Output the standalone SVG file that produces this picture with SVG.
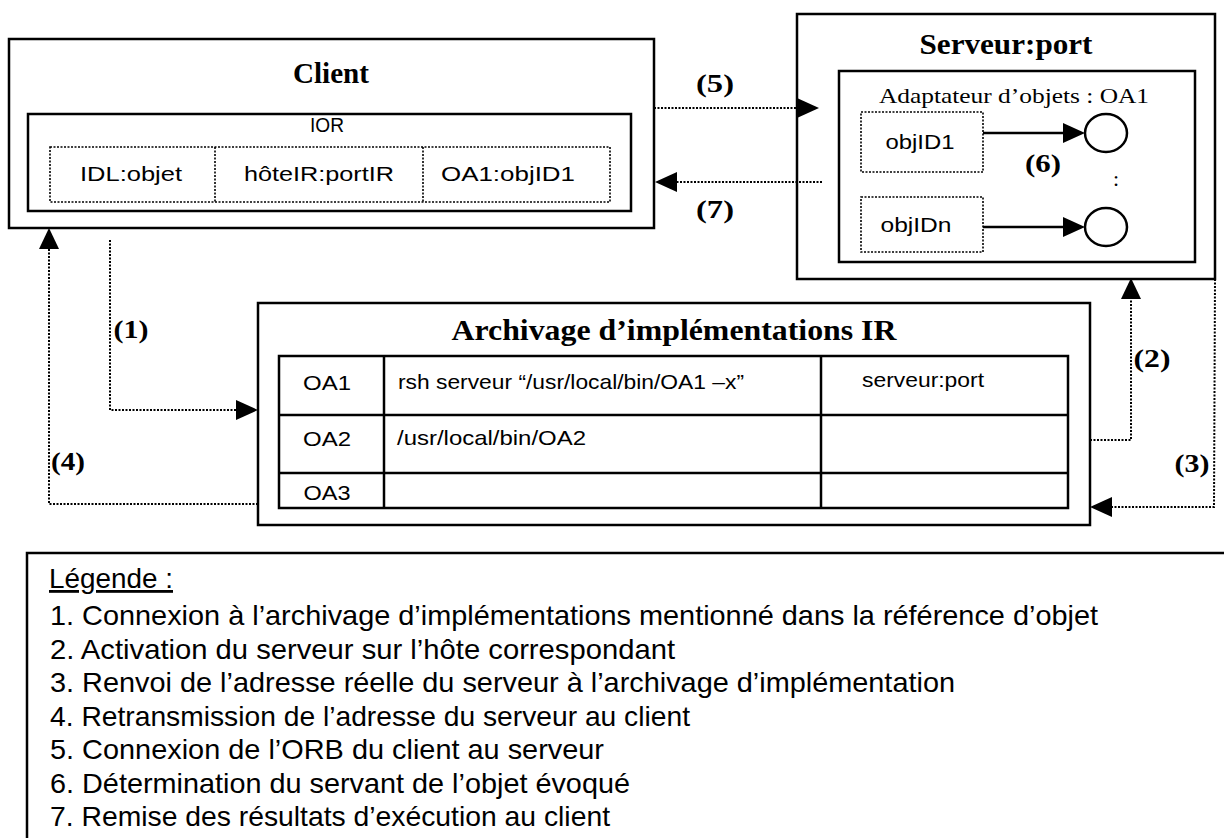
<svg xmlns="http://www.w3.org/2000/svg" width="1224" height="838" viewBox="0 0 1224 838">
<style>
.box{fill:none;stroke:#000;stroke-width:2.5}
.dbox{fill:none;stroke:#000;stroke-width:1.6;stroke-dasharray:2 1.5}
.conn{fill:none;stroke:#000;stroke-width:2;stroke-dasharray:2 1.5}
.solid{fill:none;stroke:#000;stroke-width:2.5}
.head{fill:#000;stroke:none}
.title{font-family:"Liberation Serif","Times New Roman",serif;font-weight:bold;font-size:30px;text-anchor:middle;fill:#000}
.cell{font-family:"Liberation Sans",Arial,sans-serif;font-size:21px;fill:#000}
.mid{text-anchor:middle}
.lab{font-family:"Liberation Serif","Times New Roman",serif;font-weight:bold;font-size:26px;text-anchor:middle;fill:#000}
.serif{font-family:"Liberation Serif","Times New Roman",serif;font-size:22px;fill:#000}
.leg{font-family:"Liberation Sans",Arial,sans-serif;font-size:28px;fill:#000}
</style>
<rect width="1224" height="838" fill="#fff"/>

<g id="client">
  <rect class="box" x="9" y="39" width="645" height="189"/>
  <text class="title" x="331" y="83" textLength="76" lengthAdjust="spacingAndGlyphs">Client</text>
  <rect class="box" x="28" y="114" width="603" height="97"/>
  <text class="cell mid" x="327" y="132" textLength="34" lengthAdjust="spacingAndGlyphs">IOR</text>
  <rect class="dbox" x="50" y="147" width="560" height="55"/>
  <line class="dbox" x1="215" y1="147" x2="215" y2="202"/>
  <line class="dbox" x1="423" y1="147" x2="423" y2="202"/>
  <text class="cell mid" x="131" y="181" textLength="102" lengthAdjust="spacingAndGlyphs">IDL:objet</text>
  <text class="cell mid" x="319" y="181" textLength="150" lengthAdjust="spacingAndGlyphs">hôteIR:portIR</text>
  <text class="cell mid" x="508" y="181" textLength="134" lengthAdjust="spacingAndGlyphs">OA1:objID1</text>
</g>

<g id="serveur">
  <rect class="box" x="797" y="14" width="418" height="265"/>
  <text class="title" x="1006" y="54" textLength="173" lengthAdjust="spacingAndGlyphs">Serveur:port</text>
  <rect class="box" x="839" y="71" width="356" height="191"/>
  <text class="serif" x="1014" y="103" text-anchor="middle" textLength="270" lengthAdjust="spacingAndGlyphs">Adaptateur d’objets : OA1</text>
  <rect class="dbox" x="861" y="112" width="122" height="60"/>
  <text class="cell mid" x="920" y="149" textLength="69" lengthAdjust="spacingAndGlyphs">objID1</text>
  <rect class="dbox" x="861" y="197" width="122" height="55"/>
  <text class="cell mid" x="916" y="232" textLength="71" lengthAdjust="spacingAndGlyphs">objIDn</text>
  <ellipse class="solid" cx="1106" cy="133" rx="21" ry="19"/>
  <ellipse class="solid" cx="1106" cy="227" rx="21" ry="19"/>
  <line class="solid" x1="983" y1="133" x2="1066" y2="133"/>
  <polygon class="head" points="1063,123 1085,133 1063,143"/>
  <line class="solid" x1="983" y1="227" x2="1066" y2="227"/>
  <polygon class="head" points="1063,217 1085,227 1063,237"/>
  <text class="lab" x="1043" y="172" textLength="36" lengthAdjust="spacingAndGlyphs">(6)</text>
  <text class="serif" x="1116" y="186" text-anchor="middle">:</text>
</g>

<g id="archivage">
  <rect class="box" x="258" y="303" width="832" height="222"/>
  <text class="title" x="674" y="340" textLength="445" lengthAdjust="spacingAndGlyphs">Archivage d’implémentations IR</text>
  <rect class="box" x="279" y="356" width="789" height="152"/>
  <line class="solid" x1="279" y1="415" x2="1068" y2="415"/>
  <line class="solid" x1="279" y1="473" x2="1068" y2="473"/>
  <line class="solid" x1="384" y1="356" x2="384" y2="508"/>
  <line class="solid" x1="821" y1="356" x2="821" y2="508"/>
  <text class="cell mid" x="327" y="390" textLength="48" lengthAdjust="spacingAndGlyphs">OA1</text>
  <text class="cell mid" x="327" y="446" textLength="48" lengthAdjust="spacingAndGlyphs">OA2</text>
  <text class="cell mid" x="327" y="500" textLength="47" lengthAdjust="spacingAndGlyphs">OA3</text>
  <text class="cell" x="398" y="389" textLength="346" lengthAdjust="spacingAndGlyphs">rsh serveur “/usr/local/bin/OA1 –x”</text>
  <text class="cell" x="397" y="445" textLength="189" lengthAdjust="spacingAndGlyphs">/usr/local/bin/OA2</text>
  <text class="cell" x="862" y="387" textLength="122" lengthAdjust="spacingAndGlyphs">serveur:port</text>
</g>

<g id="connecteurs">
  <line class="conn" x1="654" y1="108" x2="798" y2="108"/>
  <polygon class="head" points="797,98 819,108 797,118"/>
  <text class="lab" x="715" y="92" textLength="38" lengthAdjust="spacingAndGlyphs">(5)</text>
  <line class="conn" x1="822" y1="182" x2="674" y2="182"/>
  <polygon class="head" points="677,172 655,182 677,192"/>
  <text class="lab" x="715" y="218" textLength="38" lengthAdjust="spacingAndGlyphs">(7)</text>
  <polyline class="conn" points="110,240 110,410 240,410"/>
  <polygon class="head" points="236,400 258,410 236,420"/>
  <text class="lab" x="131" y="338" textLength="35" lengthAdjust="spacingAndGlyphs">(1)</text>
  <polyline class="conn" points="258,504 49,504 49,245"/>
  <polygon class="head" points="39,249 49,228 59,249"/>
  <text class="lab" x="68" y="470" textLength="34" lengthAdjust="spacingAndGlyphs">(4)</text>
  <polyline class="conn" points="1090,440 1131,440 1131,295"/>
  <polygon class="head" points="1121,299 1131,278 1141,299"/>
  <text class="lab" x="1152" y="367" textLength="37" lengthAdjust="spacingAndGlyphs">(2)</text>
  <polyline class="conn" points="1215,279 1214,507 1110,507"/>
  <polygon class="head" points="1112,497 1090,507 1112,517"/>
  <text class="lab" x="1192" y="472" textLength="35" lengthAdjust="spacingAndGlyphs">(3)</text>
</g>

<g id="legende">
  <rect class="box" x="27" y="553" width="1230" height="300"/>
  <text class="leg" x="49" y="588" text-decoration="underline" textLength="124" lengthAdjust="spacingAndGlyphs">Légende :</text>
  <text class="leg" x="50" y="625" textLength="1048" lengthAdjust="spacingAndGlyphs">1. Connexion à l’archivage d’implémentations mentionné dans la référence d’objet</text>
  <text class="leg" x="50" y="659" textLength="625" lengthAdjust="spacingAndGlyphs">2. Activation du serveur sur l’hôte correspondant</text>
  <text class="leg" x="50" y="692" textLength="905" lengthAdjust="spacingAndGlyphs">3. Renvoi de l’adresse réelle du serveur à l’archivage d’implémentation</text>
  <text class="leg" x="50" y="726" textLength="640" lengthAdjust="spacingAndGlyphs">4. Retransmission de l’adresse du serveur au client</text>
  <text class="leg" x="50" y="759" textLength="554" lengthAdjust="spacingAndGlyphs">5. Connexion de l’ORB du client au serveur</text>
  <text class="leg" x="50" y="793" textLength="580" lengthAdjust="spacingAndGlyphs">6. Détermination du servant de l’objet évoqué</text>
  <text class="leg" x="50" y="826" textLength="560" lengthAdjust="spacingAndGlyphs">7. Remise des résultats d’exécution au client</text>
</g>
</svg>
